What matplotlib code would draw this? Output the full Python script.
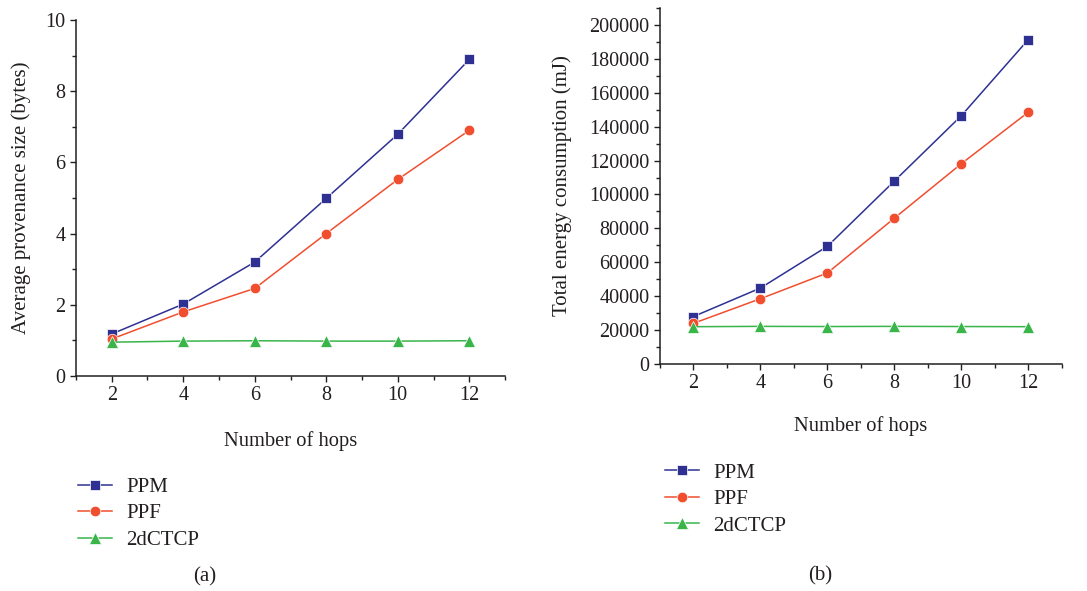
import matplotlib
matplotlib.use("Agg")
import matplotlib.pyplot as plt
from matplotlib.ticker import MultipleLocator

plt.rcParams['font.family'] = ['Liberation Serif', 'DejaVu Serif']
TXT = '#231f20'

hops = [2, 4, 6, 8, 10, 12]
series_names = ['PPM', 'PPF', '2dCTCP']

size_ppm = [1.18, 2.02, 3.20, 4.99, 6.79, 8.89]
size_ppf = [1.04, 1.80, 2.46, 4.00, 5.52, 6.90]
size_2dctcp = [0.95, 0.98, 0.99, 0.98, 0.98, 0.99]

energy_ppm = [28000, 44800, 69400, 107900, 146400, 191300]
energy_ppf = [24000, 38500, 53700, 86000, 118100, 148500]
energy_2dctcp = [22000, 22200, 22100, 22200, 22100, 22000]

colors = ['#2e3192', '#f04e2f', '#39b54a']
markers = ['s', 'o', '^']
msizes = [7.6, 7.6, 8.0]

fig = plt.figure(figsize=(10.87, 5.91), dpi=100)
ax1 = fig.add_axes([0.0699, 0.3638, 0.3947, 0.6024])
ax2 = fig.add_axes([0.6072, 0.3841, 0.3695, 0.6024])


def style(ax):
    for s in ['top', 'right']:
        ax.spines[s].set_visible(False)
    for s in ['left', 'bottom']:
        ax.spines[s].set_linewidth(1.1)
        ax.spines[s].set_color(TXT)
    ax.tick_params(which='major', direction='out', length=4.5, width=1.0,
                   labelsize=14.5, colors=TXT, pad=3)
    ax.tick_params(which='minor', direction='out', length=3, width=1.0, colors=TXT)
    ax.set_xlim(1, 13)
    ax.xaxis.set_major_locator(MultipleLocator(2))
    ax.xaxis.set_minor_locator(MultipleLocator(1))
    ax.set_xticks(hops)
    ax.set_xlabel('Number of hops', fontsize=14.8, color=TXT)


for ax, data in [(ax1, [size_ppm, size_ppf, size_2dctcp]),
                 (ax2, [energy_ppm, energy_ppf, energy_2dctcp])]:
    for name, d, c, m, ms in zip(series_names, data, colors, markers, msizes):
        ax.plot(hops, d, color=c, marker=m, markersize=ms, linewidth=1.1,
                markeredgewidth=0.5, markeredgecolor='white', label=name, clip_on=False)
    style(ax)

ax1.set_ylim(0, 10)
ax1.yaxis.set_major_locator(MultipleLocator(2))
ax1.yaxis.set_minor_locator(MultipleLocator(1))
ax1.set_ylabel('Average provenance size (bytes)', fontsize=15, color=TXT)
ax1.yaxis.set_label_coords(-0.105, 0.5)
ax1.xaxis.set_label_coords(0.5, -0.155)

ax2.set_ylim(0, 210000)
ax2.yaxis.set_major_locator(MultipleLocator(20000))
ax2.yaxis.set_minor_locator(MultipleLocator(10000))
ax2.set_ylabel('Total energy consumption (mJ)', fontsize=15, color=TXT)
ax2.yaxis.set_label_coords(-0.218, 0.5)
ax2.xaxis.set_label_coords(0.5, -0.145)

leg_kw = dict(loc='upper left', frameon=False, fontsize=15, handlelength=1.6,
              labelspacing=0.33, handletextpad=0.7, labelcolor=TXT)
h1, l1 = ax1.get_legend_handles_labels()
fig.legend(h1, l1, bbox_to_anchor=(0.0547, 0.224), **leg_kw)
h2, l2 = ax2.get_legend_handles_labels()
fig.legend(h2, l2, bbox_to_anchor=(0.5948, 0.248), **leg_kw)

fig.text(205 / 1087, 1 - 577 / 591, '(a)', fontsize=15, color=TXT, ha='center', va='center')
fig.text(820 / 1087, 1 - 576 / 591, '(b)', fontsize=15, color=TXT, ha='center', va='center')

fig.savefig('out.png', dpi=100, facecolor='white')
